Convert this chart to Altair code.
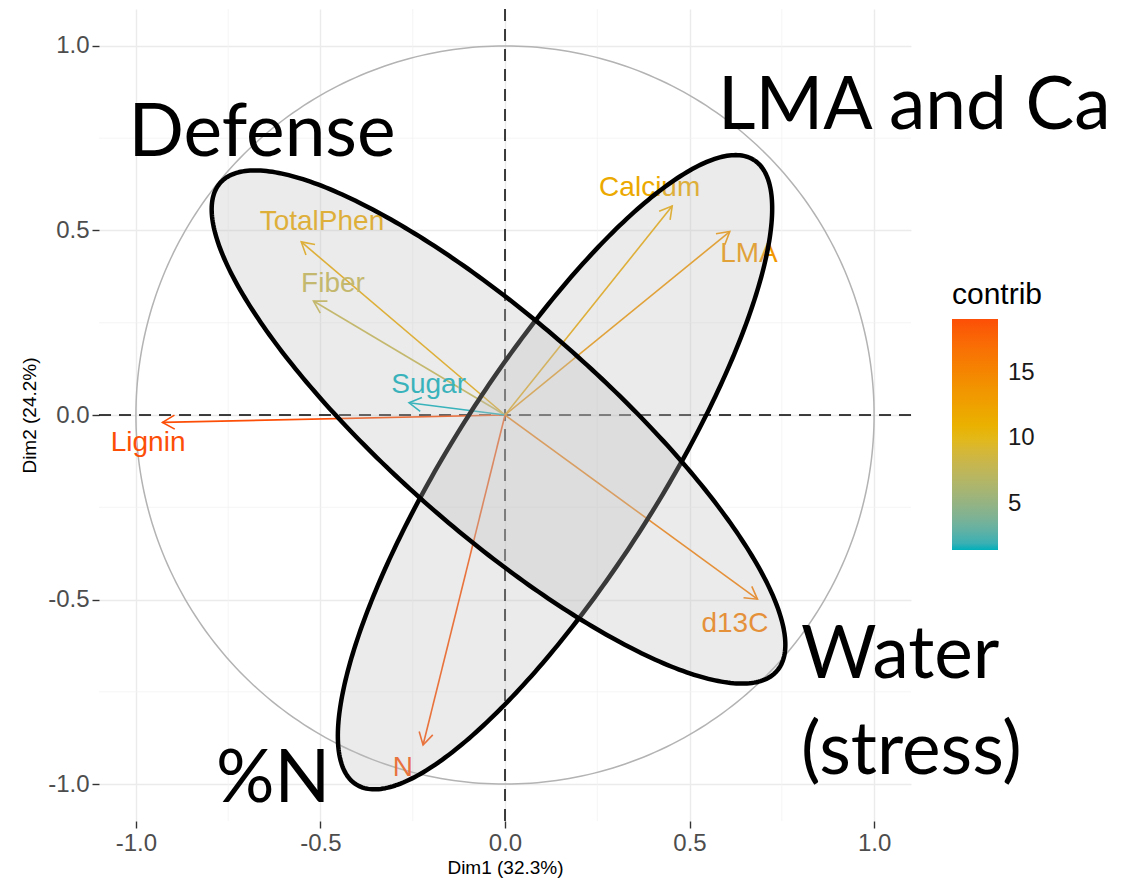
import altair as alt
import numpy as np
import pandas as pd

# ---- data ----
variables = ["Lignin", "TotalPhen", "Fiber", "Sugar", "Calcium", "LMA", "d13C", "N"]
dim1 = [-0.928, -0.552, -0.519, -0.260, 0.453, 0.609, 0.684, -0.222]
dim2 = [-0.020, 0.469, 0.309, 0.033, 0.566, 0.497, -0.499, -0.894]
contrib = [19.1, 11.7, 8.1, 1.5, 11.8, 13.5, 15.7, 18.8]
label_x = [-0.967, -0.496, -0.466, -0.207, 0.392, 0.661, 0.623, -0.277]
label_y = [-0.076, 0.523, 0.356, 0.081, 0.615, 0.436, -0.565, -0.957]

axis_ticks = [-1.0, -0.5, 0.0, 0.5, 1.0]
minor_ticks = [-0.75, -0.25, 0.25, 0.75]
legend_ticks = [5, 10, 15]
gradient_colors = ["#00AFBB", "#E7B800", "#FC4E07"]

ellipse_cx = [0.1355, -0.0176]
ellipse_cy = [-0.155, -0.0325]
ellipse_a = [1.003, 1.003]
ellipse_b = [0.28, 0.285]
ellipse_angle = [57.5, -41.25]

annot_text = ["Defense", "LMA and Ca", "Water", "(stress)", "%N"]
annot_x = [-1.02, 0.577, 0.802, 0.802, -0.783]
annot_y = [0.702, 0.775, -0.713, -0.973, -1.049]

# ---- tables ----
dx = np.array(dim1)
dy = np.array(dim2)
df = pd.DataFrame({
    "var": variables, "x": dim1, "y": dim2, "x0": 0.0, "y0": 0.0,
    "contrib": contrib, "lx": label_x, "ly": label_y,
    "ang": (np.degrees(np.arctan2(dx, dy)) + 360.0) % 360.0,
})

t = np.linspace(0, 2 * np.pi, 361)
df_circle = pd.DataFrame({"cx": np.cos(t), "cy": np.sin(t), "i": np.arange(len(t))})


def ellipse_df(k):
    th = np.radians(ellipse_angle[k])
    a, b = ellipse_a[k], ellipse_b[k]
    ex = ellipse_cx[k] + a * np.cos(t) * np.cos(th) - b * np.sin(t) * np.sin(th)
    ey = ellipse_cy[k] + a * np.cos(t) * np.sin(th) + b * np.sin(t) * np.cos(th)
    return pd.DataFrame({"ex": ex, "ey": ey, "i": np.arange(len(t))})


df_annot = pd.DataFrame({"t": annot_text, "ax": annot_x, "ay": annot_y})
df_minor = pd.DataFrame({"v": minor_ticks})
df_zero = pd.DataFrame({"z": [0.0]})

# ---- scales / axes ----
DOM = [-1.1, 1.1]
sc = alt.Scale(domain=DOM, nice=False, zero=False)
label_expr = "datum.value < 0 ? '-' + format(-datum.value, '.1f') : format(datum.value, '.1f')"
common_axis = dict(values=axis_ticks, labelExpr=label_expr, grid=True, gridColor="#EBEBEB",
                   gridWidth=1.4, domain=False, ticks=True, tickColor="#333333", tickWidth=1.4,
                   tickSize=7, labelFontSize=24, labelColor="#4D4D4D", labelFont="Liberation Sans",
                   labelPadding=3, titleFontSize=19, titleFont="Liberation Sans",
                   titleFontWeight="normal", titleColor="#000000")
xaxis = alt.Axis(title="Dim1 (32.3%)", titlePadding=3, **common_axis)
yaxis = alt.Axis(title="Dim2 (24.2%)", titlePadding=8, **common_axis)


def X(f):
    return alt.X(f, type="quantitative", scale=sc, axis=xaxis)


def Y(f):
    return alt.Y(f, type="quantitative", scale=sc, axis=yaxis)


cmin, cmax = min(contrib), max(contrib)
cmid = (cmin + cmax) / 2

# stroke scale (arrows + heads, carries the legend)
stroke_scale = alt.Scale(domain=[cmin, cmid, cmax], range=gradient_colors, interpolate="lab")
# fill scale for the labels: same colours, domain differs by a hair so that
# Vega-Lite keeps it out of the (gradient) legend
fill_scale = alt.Scale(domain=[cmin, cmid, cmax + 1e-6], range=gradient_colors, interpolate="lab")

legend = alt.Legend(type="gradient", title="contrib", orient="none",
                    legendX=853, legendY=271,
                    direction="vertical", values=legend_ticks, format="d",
                    gradientLength=231, gradientThickness=46, gradientStrokeWidth=0,
                    titleFontSize=30, titleFont="Liberation Sans",
                    titleFontWeight="normal", titleColor="#000000", titlePadding=9,
                    labelFontSize=24, labelFont="Liberation Sans",
                    labelColor="#1A1A1A", labelOffset=10)
S = alt.Stroke("contrib:Q", scale=stroke_scale, legend=legend)
F = alt.Fill("contrib:Q", scale=fill_scale, legend=None)

minor_v = alt.Chart(df_minor).mark_rule(color="#F2F2F2", strokeWidth=0.8).encode(x=X("v"))
minor_h = alt.Chart(df_minor).mark_rule(color="#F2F2F2", strokeWidth=0.8).encode(y=Y("v"))

circle = alt.Chart(df_circle).mark_line(color="#B3B3B3", strokeWidth=1.5).encode(
    x=X("cx"), y=Y("cy"), order=alt.Order("i:Q"))

zero_v = alt.Chart(df_zero).mark_rule(color="black", strokeDash=[12, 8], strokeWidth=1.5).encode(x=X("z"))
zero_h = alt.Chart(df_zero).mark_rule(color="black", strokeDash=[12, 8], strokeWidth=1.5).encode(y=Y("z"))

arrows = alt.Chart(df).mark_rule(strokeWidth=1.6).encode(
    x=X("x0"), y=Y("y0"), x2="x:Q", y2="y:Q", stroke=S)

heads = alt.Chart(df).mark_point(shape="M -0.5 0.866 L 0 0 L 0.5 0.866", size=784, filled=False,
                                 strokeWidth=1.6, opacity=1).encode(
    x=X("x"), y=Y("y"), angle=alt.Angle("ang:Q", scale=None), stroke=S)

labels = alt.Chart(df).mark_text(font="Liberation Sans", fontSize=28, align="center",
                                 baseline="middle").encode(
    x=X("lx"), y=Y("ly"), text="var:N", fill=F)

ell_layers = []
for k in range(len(ellipse_cx)):
    ell_layers.append(
        alt.Chart(ellipse_df(k)).mark_line(stroke="black", strokeWidth=4.5, fill="#BDBDBD",
                                           fillOpacity=0.3, strokeJoin="round").encode(
            x=X("ex"), y=Y("ey"), order=alt.Order("i:Q")))

annots = alt.Chart(df_annot).mark_text(font="Lato", fontSize=73, align="left",
                                       baseline="alphabetic", color="black").encode(
    x=X("ax"), y=Y("ay"), text="t:N")

chart = alt.layer(minor_v, minor_h, circle, zero_v, zero_h, arrows, heads, labels,
                  *ell_layers, annots).properties(
    width=812, height=812,
    autosize=alt.AutoSizeParams(type="none"),
    padding={"left": 91, "top": 1, "right": 209, "bottom": 59},
    background="white",
).configure_view(stroke=None)

chart.save("out.html", embed_options={"renderer": "svg", "actions": False})
